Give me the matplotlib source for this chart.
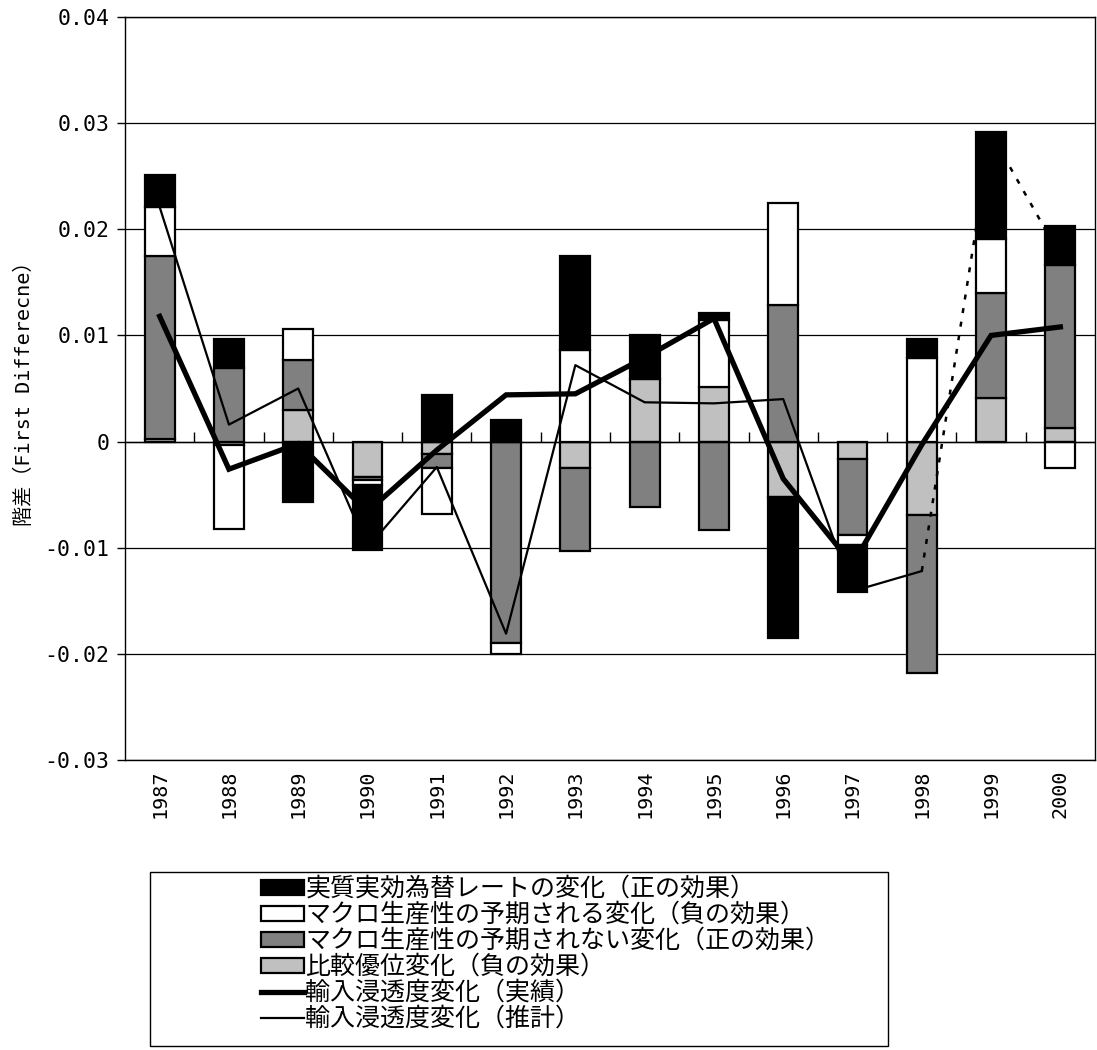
import matplotlib

matplotlib.use('Agg')

import matplotlib.pyplot as plt
import matplotlib.markers as mmarkers
import numpy as np
from matplotlib.lines import Line2D
from matplotlib.patches import Patch, Rectangle

plt.rcParams['font.family'] = ['Noto Sans CJK JP', 'DejaVu Sans']
MONO = ['DejaVu Sans Mono', 'Noto Sans CJK JP']

years = ['1987', '1988', '1989', '1990', '1991', '1992', '1993',
         '1994', '1995', '1996', '1997', '1998', '1999', '2000']

# stacked components (stack order bottom -> top: light gray, dark gray, white, black)
comp_adv = [0.0002, -0.0003, 0.0030, -0.0033, -0.0012, 0.0, -0.0025,
            0.0059, 0.0051, -0.0052, -0.0016, -0.0069, 0.0041, 0.0013]
macro_unexp = [0.0173, 0.0069, 0.0047, -0.0003, -0.0013, -0.0190, -0.0078,
               -0.0062, -0.0083, 0.0129, -0.0072, -0.0149, 0.0099, 0.0153]
macro_exp = [0.0046, -0.0079, 0.0029, -0.0005, -0.0043, -0.0010, 0.0086,
             0.0, 0.0064, 0.0096, -0.0009, 0.0079, 0.0051, -0.0025]
reer = [0.0030, 0.0028, -0.0057, -0.0061, 0.0044, 0.0020, 0.0089,
        0.0041, 0.0006, -0.0133, -0.0045, 0.0018, 0.0101, 0.0037]

# lines
actual = [0.0118, -0.0026, -0.0002, -0.0066, -0.0008, 0.0044, 0.0045,
          0.0079, 0.0116, -0.0035, -0.0116, -0.0003, 0.0100, 0.0108]
estimate = [0.0221, 0.0016, 0.0050, -0.0100, -0.0024, -0.0181, 0.0072,
            0.0037, 0.0036, 0.0040, -0.0141, -0.0122]
forecast_years = ['1998', '1999', '2000']
forecast = [-0.0122, 0.0290, 0.0175]

labels = ['実質実効為替レートの変化（正の効果）',
          'マクロ生産性の予期される変化（負の効果）',
          'マクロ生産性の予期されない変化（正の効果）',
          '比較優位変化（負の効果）',
          '輸入浸透度変化（実績）',
          '輸入浸透度変化（推計）']

fig = plt.figure(figsize=(10.97, 10.5), dpi=100)
ax = fig.add_axes([125 / 1097, 1 - 760 / 1050, 970 / 1097, 743 / 1050])

x = np.arange(len(years))
pos_base = np.zeros(len(years))
neg_base = np.zeros(len(years))
series = [(comp_adv, '#c0c0c0'), (macro_unexp, '#808080'),
          (macro_exp, '#ffffff'), (reer, '#000000')]
for vals, col in series:
    v = np.array(vals)
    bottom = np.where(v >= 0, pos_base, neg_base)
    nz = v != 0
    ax.bar(x[nz], v[nz], width=0.43, bottom=bottom[nz], color=col,
           edgecolor='black', linewidth=1.6, zorder=2)
    pos_base = pos_base + np.where(v > 0, v, 0)
    neg_base = neg_base + np.where(v < 0, v, 0)

ax.plot(x, actual, color='black', lw=3.8, zorder=4, solid_joinstyle='miter')
ax.plot(x[:len(estimate)], estimate, color='black', lw=1.6, zorder=4)
fx = [years.index(y) for y in forecast_years]
ax.plot(fx, forecast, color='black', lw=1.8, ls=(0, (2, 3.5)), zorder=4)

# zero axis with boundary ticks pointing up
ax.axhline(0, color='black', lw=1.0, zorder=3)
ax.plot(x[:-1] + 0.5, np.zeros(len(years) - 1), ls='none',
        marker=mmarkers.TICKUP, ms=7, mew=1.0, color='black', zorder=3)

ax.set_xlim(-0.5, len(years) - 0.5)
ax.set_ylim(-0.03, 0.04)
yt = [0.04, 0.03, 0.02, 0.01, 0, -0.01, -0.02, -0.03]
ax.set_yticks(yt)
ax.set_yticklabels(['0.04', '0.03', '0.02', '0.01', '0',
                    '-0.01', '-0.02', '-0.03'], family=MONO, fontsize=15.5)
ax.yaxis.grid(True, color='black', lw=0.9)
ax.set_axisbelow(True)
ax.tick_params(axis='y', direction='out', length=6, width=1.0, pad=5)
ax.set_xticks(x)
ax.set_xticklabels(years, rotation=90, family=MONO, fontsize=14.5)
ax.tick_params(axis='x', length=0, pad=7)
for s in ax.spines.values():
    s.set_color('black')
    s.set_linewidth(1.0)
ax.set_ylabel('階差（First Differecne）', family=MONO, fontsize=14.5,
              labelpad=8)

# legend box
fig.patches.append(Rectangle((150 / 1097, 1 - 1046 / 1050), 738 / 1097,
                             174 / 1050, transform=fig.transFigure,
                             fill=False, edgecolor='black', lw=1.0))
handles = [Patch(facecolor='#000000', edgecolor='black', lw=1.6),
           Patch(facecolor='#ffffff', edgecolor='black', lw=1.6),
           Patch(facecolor='#808080', edgecolor='black', lw=1.6),
           Patch(facecolor='#c0c0c0', edgecolor='black', lw=1.6),
           Line2D([], [], color='black', lw=3.8),
           Line2D([], [], color='black', lw=1.6)]
fig.legend(handles, labels, loc='upper left',
           bbox_to_anchor=(261 / 1097, 1 - 876 / 1050), frameon=False,
           fontsize=18, handlelength=1.7, handleheight=0.56,
           handletextpad=0.08, labelspacing=0.0, borderpad=0,
           borderaxespad=0)

fig.savefig('out.png', dpi=100, facecolor='white')
